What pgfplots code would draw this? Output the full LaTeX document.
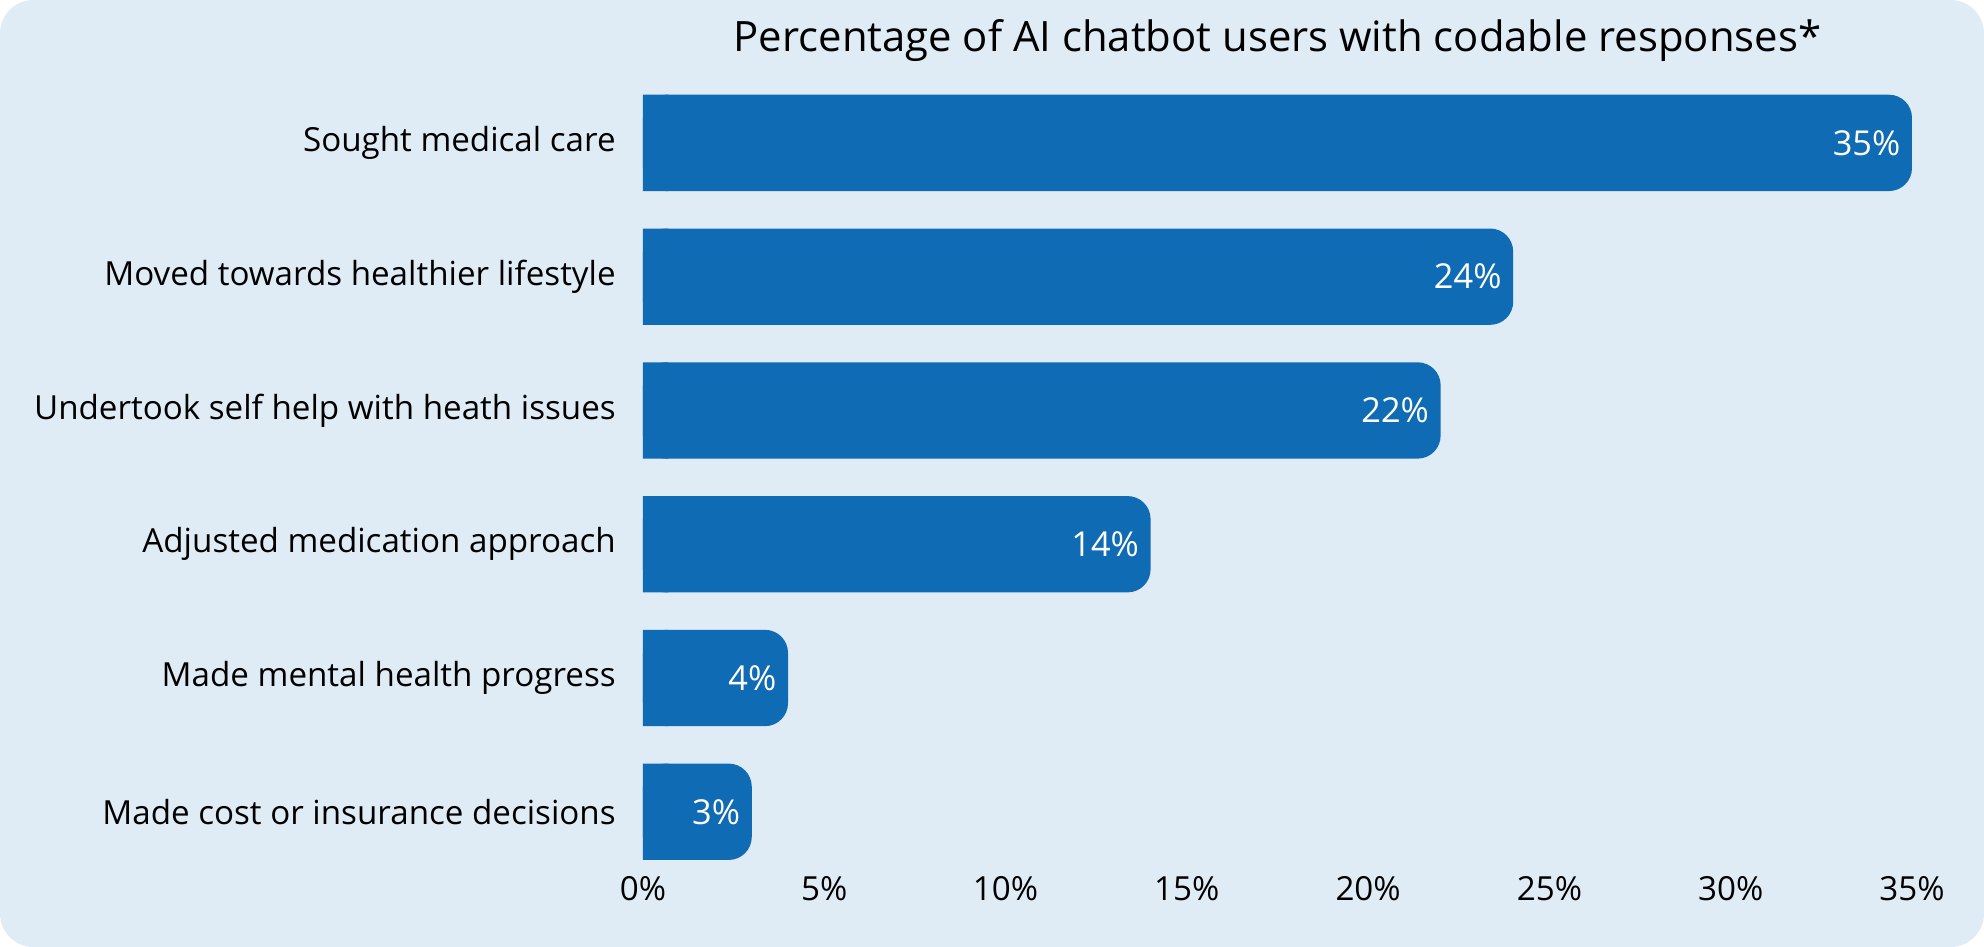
\documentclass[border=0pt]{standalone}
\usepackage{pgfplots}
\pgfplotsset{compat=1.18}
\usepackage{fontspec}
\setmainfont{Open Sans}
\definecolor{bgc}{HTML}{DFECF6}
\definecolor{barc}{HTML}{106BB5}
\begin{document}
\begin{tikzpicture}
\path[use as bounding box] (0,0) rectangle (595.2pt,284.1pt);
\fill[bgc, rounded corners=10pt] (0,0) rectangle (595.2pt,284.1pt);
\begin{axis}[
  at={(192.9pt,20.5pt)}, anchor=south west,
  scale only axis, width=380.7pt, height=240.8pt,
  xmin=0, xmax=35, ymin=-0.5, ymax=5.5,
  xtick={0,5,...,35},
  xticklabel={\pgfmathprintnumber{\tick}\%},
  ytick={0,1,2,3,4,5},
  yticklabels={Made cost or insurance decisions, Made mental health progress, Adjusted medication approach, Undertook self help with heath issues, Moved towards healthier lifestyle, Sought medical care},
  axis line style={draw=none},
  major tick length=0pt,
  tick label style={font=\fontsize{9.95}{11}\selectfont, text=black},
  xticklabel style={inner sep=0pt, yshift=1pt},
  yticklabel style={inner sep=0pt, xshift=-8pt},
  /pgf/number format/assume math mode=true,
  clip=false,
]
\addplot[xbar, bar shift=0pt, bar width=0.72, fill=barc, draw=none] coordinates {(0.7,0) (0.7,1) (0.7,2) (0.7,3) (0.7,4) (0.7,5)};
\addplot[xbar, bar shift=0pt, bar width=0.72, fill=barc, draw=none, rounded corners=6.9pt,
  nodes near coords={\pgfmathprintnumber{\pgfplotspointmeta}\%},
  point meta=x,
  every node near coord/.append style={anchor=east, xshift=-3.3pt, text=white, font=\fontsize{10.3}{11}\selectfont, inner sep=0pt, /pgf/number format/assume math mode=true, rounded corners=0pt},
] coordinates {(3,0) (4,1) (14,2) (22,3) (24,4) (35,5)};
\node[font=\fontsize{12.55}{14}\selectfont, anchor=center, inner sep=0pt] at ([yshift=10.5pt]rel axis cs:0.5,1) {Percentage of AI chatbot users with codable responses*};
\end{axis}
\end{tikzpicture}
\end{document}
